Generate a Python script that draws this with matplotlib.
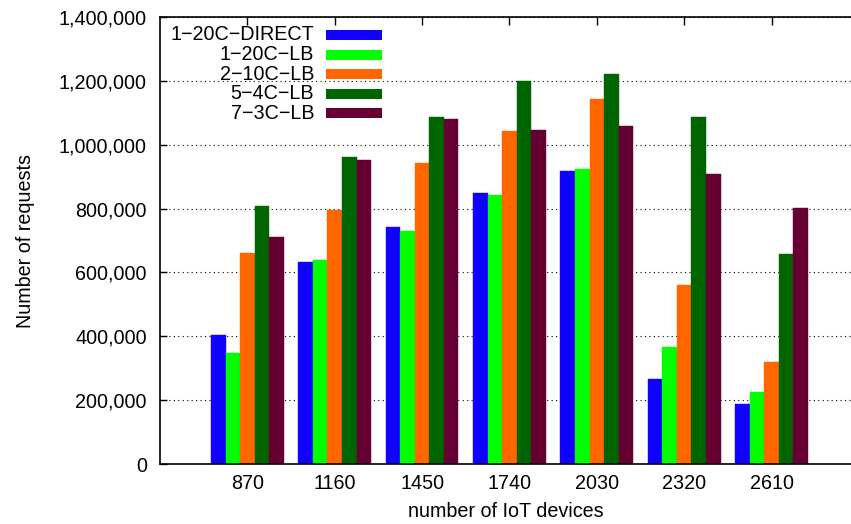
import matplotlib.pyplot as plt
from matplotlib.patches import Rectangle
from matplotlib.ticker import FuncFormatter
import numpy as np

plt.rcParams["font.family"] = ["Liberation Sans", "DejaVu Sans"]
plt.rcParams["font.size"] = 14.2

devices = ["870", "1160", "1450", "1740", "2030", "2320", "2610"]
series = ["1\u221220C\u2212DIRECT", "1\u221220C\u2212LB", "2\u221210C\u2212LB", "5\u22124C\u2212LB", "7\u22123C\u2212LB"]
colors = ["#1000ff", "#00ff00", "#ff6600", "#006400", "#660033"]

direct_20c = [404000, 632000, 742000, 848000, 917000, 266000, 189000]
lb_20c = [348000, 639000, 730000, 842000, 924000, 366000, 225000]
lb_10c = [661000, 795000, 942000, 1043000, 1143000, 561000, 318000]
lb_4c = [808000, 961000, 1086000, 1198000, 1221000, 1087000, 658000]
lb_3c = [711000, 952000, 1080000, 1046000, 1059000, 908000, 802000]
values = [direct_20c, lb_20c, lb_10c, lb_4c, lb_3c]

fig = plt.figure(figsize=(8.51, 5.24), dpi=100)
ax = fig.add_axes([160/851, 60/524, 691/851, 447/524])

x = np.arange(len(devices))
w = 1/6
for i, (vals, c) in enumerate(zip(values, colors)):
    ax.bar(x + (i - 2)*w, vals, width=w, color=c, edgecolor=c, linewidth=0.3, zorder=2)

ax.set_xlim(-1, 6.91)
ax.set_ylim(0, 1400000)
ax.set_yticks(range(0, 1400001, 200000))
ax.yaxis.set_major_formatter(FuncFormatter(lambda v, p: f"{int(v):,}"))
ax.set_xticks(x)
ax.set_xticklabels(devices)

ax.grid(axis="y", color="black", linestyle=(0, (1, 3)), linewidth=0.8, zorder=0)
ax.set_axisbelow(True)
ax.spines["right"].set_visible(False)
for s in ["left", "top", "bottom"]:
    ax.spines[s].set_linewidth(1.2)
ax.tick_params(axis="y", direction="in", length=5, width=1, pad=9.5, right=False)
ax.tick_params(axis="x", direction="in", length=6, width=1, pad=7.5, bottom=False, top=True, labeltop=False)

ax.set_ylabel("Number of requests", labelpad=17)
ax.set_xlabel("number of IoT devices", labelpad=6)

# legend: labels right-aligned, colour swatch to the right
for i, (name, c) in enumerate(zip(series, colors)):
    yy = 1 - (18 + 19.6*i)/447
    ax.text(154/691, yy, name, transform=ax.transAxes, ha="right", va="center")
    ax.add_patch(Rectangle((166/691, yy - 5/447), 56/691, 10/447, transform=ax.transAxes,
                           facecolor=c, edgecolor="none", zorder=3))

fig.savefig("out.png", dpi=100)
